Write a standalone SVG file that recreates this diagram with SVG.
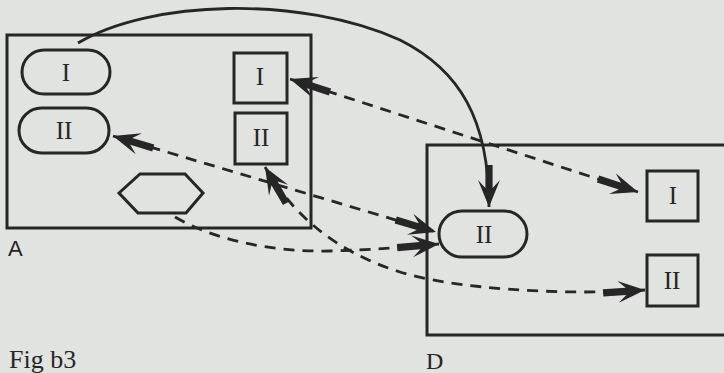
<svg xmlns="http://www.w3.org/2000/svg" width="724" height="373" viewBox="0 0 724 373">
  <style>
    .frame { fill: none; stroke: #262626; stroke-width: 3; }
    .node { fill: none; stroke: #262626; stroke-width: 3; }
    .lbl { font-family: "Liberation Serif", "Times New Roman", serif; font-size: 25px; fill: #262626; text-anchor: middle; }
    .cap { font-family: "Liberation Serif", "Times New Roman", serif; fill: #262626; }
    .solid { fill: none; stroke: #262626; stroke-width: 2.8; }
    .dash { fill: none; stroke: #262626; stroke-width: 2.8; stroke-dasharray: 11 8; }
  </style>
  <defs>
    <marker id="head" viewBox="-44 -13 46 26" markerWidth="46" markerHeight="26" refX="0" refY="0" markerUnits="userSpaceOnUse" orient="auto-start-reverse">
      <path d="M0,0 L-27,-11 L-19,-3.6 L-42,-3.6 L-42,3.6 L-19,3.6 L-27,11 Z" fill="#262626"/>
    </marker>
  </defs>

  <rect width="724" height="373" fill="#e0e3df"/>

  <!-- frame A -->
  <g id="frameA">
    <rect class="frame" x="7" y="35" width="304" height="193"/>
    <text x="8" y="256" font-size="22" font-family="Liberation Sans, Arial, sans-serif" fill="#262626">A</text>
  </g>

  <!-- frame D (open to the right) -->
  <g id="frameD">
    <rect class="frame" x="427" y="145" width="330" height="190"/>
    <text class="cap" x="426" y="369" font-size="24">D</text>
  </g>

  <g id="a-round-1">
    <rect class="node" x="22" y="50" width="88" height="44" rx="22"/>
    <text class="lbl" x="66" y="81">I</text>
  </g>
  <g id="a-round-2">
    <rect class="node" x="19" y="108" width="90" height="45" rx="22.5"/>
    <text class="lbl" x="64" y="139">II</text>
  </g>
  <g id="a-square-1">
    <rect class="node" x="234" y="53" width="53" height="50"/>
    <text class="lbl" x="260" y="85">I</text>
  </g>
  <g id="a-square-2">
    <rect class="node" x="235" y="113" width="52" height="51"/>
    <text class="lbl" x="261" y="146">II</text>
  </g>
  <g id="a-hexagon">
    <polygon class="node" points="119,193 140,174 185,174 203,193 186,213 138,213"/>
  </g>

  <g id="d-round-2">
    <rect class="node" x="439" y="211" width="88" height="46" rx="23"/>
    <text class="lbl" x="484" y="243">II</text>
  </g>
  <g id="d-square-1">
    <rect class="node" x="647" y="171" width="51" height="50"/>
    <text class="lbl" x="673" y="204">I</text>
  </g>
  <g id="d-square-2">
    <rect class="node" x="647" y="255" width="51" height="51"/>
    <text class="lbl" x="672" y="289">II</text>
  </g>

  <!-- connectors -->
  <g id="connectors">
    <path class="solid" d="M78,43 C150,0 300,-5 400,40 C460,70 489,120 489,207" marker-end="url(#head)"/>
    <path class="dash" d="M290,79 L638,192" marker-start="url(#head)" marker-end="url(#head)"/>
    <path class="dash" d="M113,136 L436,232" marker-start="url(#head)" marker-end="url(#head)"/>
    <path class="dash" d="M265,167 C290,210 330,250 400,272 C450,288 560,296 645,290" marker-start="url(#head)" marker-end="url(#head)"/>
    <path class="dash" d="M175,217 C215,240 270,252 330,251 C370,250 405,247 439,244" marker-end="url(#head)"/>
  </g>

  <text class="cap" x="9" y="368" font-size="26">Fig b3</text>
</svg>
